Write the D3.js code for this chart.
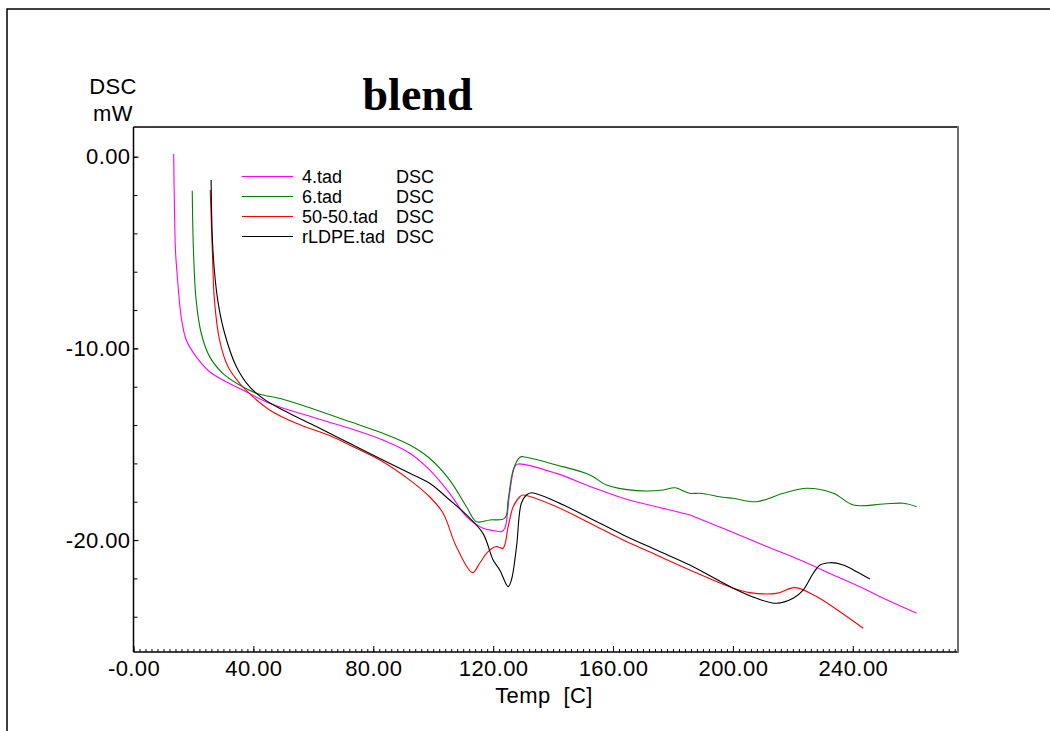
<!DOCTYPE html>
<html>
<head>
<meta charset="utf-8">
<script src="https://cdn.jsdelivr.net/npm/d3@7"></script>
<style>
  html, body { margin: 0; padding: 0; background: #fff; }
  svg { display: block; }
  text { font-family: "Liberation Sans", Arial, sans-serif; fill: #000; }
</style>
</head>
<body>
<svg id="chart" width="1050" height="731"></svg>
<script>
// DSC heat-flow traces (temperature in °C, heat flow in mW)
const series4T = [13.4, 13.7, 14.0, 14.8, 15.9, 17.6, 20.9, 25.4, 30.9, 36.5, 45.4, 61, 72.1, 83.2, 92.2, 98.8, 105.5, 111.1, 116.6, 120, 122.8, 123.9, 125.5, 127.2, 128.3, 141.1, 152.3, 163.4, 174.5, 185.6, 189, 200.1, 211.3, 222.4, 233.5, 244.6, 251.3, 261.3];
const series4V = [0.14, -3.0, -4.87, -6.6, -8.35, -9.56, -10.43, -11.22, -11.74, -12.17, -12.86, -13.65, -14.17, -14.78, -15.47, -16.34, -17.56, -18.78, -19.38, -19.5, -19.56, -19.38, -17.56, -16.17, -16.03, -16.52, -17.2, -17.82, -18.26, -18.69, -18.9, -19.6, -20.34, -21.04, -21.82, -22.6, -23.12, -23.82];

const series6T = [19.6, 20.0, 20.9, 22.6, 25.4, 29.8, 35.4, 41, 49.8, 61, 72.1, 83.2, 92.2, 98.8, 105.5, 111.1, 114.4, 118.9, 123.9, 125, 126.7, 128.9, 130, 141.1, 152.3, 157.8, 167.8, 176.7, 180.6, 185.6, 189, 196.7, 200.1, 207.9, 216.8, 224.6, 233.5, 240.2, 250.2, 256.9, 261.3];
const series6V = [-1.77, -4.87, -7.48, -9.21, -10.43, -11.3, -11.91, -12.34, -12.65, -13.21, -13.82, -14.43, -15.04, -15.73, -16.87, -18.26, -19.04, -18.95, -18.86, -17.91, -16.34, -15.68, -15.65, -16.08, -16.6, -17.13, -17.42, -17.39, -17.27, -17.56, -17.56, -17.77, -17.82, -18.0, -17.56, -17.3, -17.56, -18.17, -18.12, -18.08, -18.26];

const series5050T = [25.6, 26.3, 27.0, 28.7, 31.5, 35.4, 39.8, 45.4, 54.3, 65.4, 72.1, 83.2, 92.2, 98.8, 103.3, 107.7, 113.1, 115.5, 118.3, 121.1, 123.3, 125, 126.7, 128.9, 130, 141.1, 152.3, 163.4, 174.5, 185.6, 200.1, 205.6, 214.5, 220.7, 227.9, 235.7, 243.5];
const series5050V = [-1.74, -4.87, -7.48, -9.56, -10.95, -11.82, -12.52, -13.21, -13.91, -14.55, -15.04, -15.91, -16.87, -17.74, -18.6, -20.34, -21.7, -21.21, -20.6, -20.34, -20.43, -19.3, -18.26, -17.74, -17.65, -18.26, -19.12, -20.0, -20.78, -21.56, -22.51, -22.74, -22.78, -22.48, -22.95, -23.74, -24.6];

const seriesLdpeT = [25.9, 26.5, 28.1, 30.4, 34.3, 38.7, 44.0, 49.8, 61, 72.1, 83.2, 92.2, 98.8, 105.5, 111.1, 116.6, 120, 122.2, 125, 126.1, 127.8, 129.4, 131.1, 132.8, 141.1, 152.3, 163.4, 174.5, 185.6, 200.1, 207.9, 214.5, 220.1, 223.5, 226.8, 229.1, 232.4, 236.8, 241.3, 245.7];
const seriesLdpeV = [-1.22, -4.87, -7.48, -9.21, -10.95, -12.0, -12.7, -13.21, -14.08, -14.95, -15.82, -16.52, -17.04, -17.91, -18.69, -19.65, -21.04, -21.56, -22.43, -22.08, -20.34, -18.08, -17.65, -17.53, -18.0, -18.86, -19.73, -20.52, -21.3, -22.51, -23.04, -23.3, -23.04, -22.6, -21.73, -21.3, -21.18, -21.3, -21.65, -22.03];

const seriesNames = ["4.tad", "6.tad", "50-50.tad", "rLDPE.tad"];
const seriesColors = ["#ff00ff", "#008000", "#ff0000", "#000000"];

const xTickValues = [0, 40, 80, 120, 160, 200, 240];
const xTickLabels = ["-0.00", "40.00", "80.00", "120.00", "160.00", "200.00", "240.00"];
const yTickValues = [0, -10, -20];
const yTickLabels = ["0.00", "-10.00", "-20.00"];

const svg = d3.select("#chart");

// plot area
const plotLeft = 133.5, plotRight = 958, plotTop = 127, plotBottom = 652;
const x = d3.scaleLinear().domain([0, 275.1]).range([plotLeft, plotRight]);
const y = d3.scaleLinear().domain([1.55, -25.84]).range([plotTop, plotBottom]);

// outer page frame
svg.append("path")
  .attr("d", "M7,731 L7,9 L1050,9")
  .attr("fill", "none").attr("stroke", "#000").attr("stroke-width", 1.5);

// minor x ticks every 2 °C
svg.append("g")
  .attr("transform", `translate(0,${plotBottom})`)
  .call(d3.axisBottom(x).tickValues(d3.range(0, 275, 2)).tickSize(-3).tickFormat(""))
  .call(g => g.select(".domain").remove())
  .call(g => g.selectAll("line").attr("stroke", "#000"));

// major x ticks with labels
const xMap = new Map(xTickValues.map((v, i) => [v, xTickLabels[i]]));
svg.append("g")
  .attr("transform", `translate(0,${plotBottom})`)
  .call(d3.axisBottom(x).tickValues(xTickValues).tickSize(-6).tickPadding(8).tickFormat(d => xMap.get(d)))
  .call(g => g.select(".domain").remove())
  .call(g => g.selectAll("line").attr("stroke", "#000"))
  .call(g => g.selectAll("text").attr("font-size", 22).attr("letter-spacing", 0.4)
    .attr("font-family", "Liberation Sans, Arial, sans-serif"));

// minor y ticks every 2 mW
svg.append("g")
  .attr("transform", `translate(${plotLeft},0)`)
  .call(d3.axisLeft(y).tickValues(d3.range(0, -25.9, -2)).tickSize(-4).tickFormat(""))
  .call(g => g.select(".domain").remove())
  .call(g => g.selectAll("line").attr("stroke", "#000"));

// major y ticks with labels
const yMap = new Map(yTickValues.map((v, i) => [v, yTickLabels[i]]));
svg.append("g")
  .attr("transform", `translate(${plotLeft},0)`)
  .call(d3.axisLeft(y).tickValues(yTickValues).tickSize(-5).tickPadding(3).tickFormat(d => yMap.get(d)))
  .call(g => g.select(".domain").remove())
  .call(g => g.selectAll("line").attr("stroke", "#000"))
  .call(g => g.selectAll("text").attr("font-size", 22).attr("letter-spacing", 0.4)
    .attr("font-family", "Liberation Sans, Arial, sans-serif"));

// plot frame
svg.append("line").attr("x1", plotLeft).attr("x2", plotRight).attr("y1", plotTop).attr("y2", plotTop)
  .attr("stroke", "#000").attr("stroke-width", 1.5);
svg.append("line").attr("x1", plotLeft).attr("x2", plotLeft).attr("y1", plotTop).attr("y2", plotBottom)
  .attr("stroke", "#000").attr("stroke-width", 1.5);
svg.append("line").attr("x1", plotLeft).attr("x2", plotRight).attr("y1", plotBottom).attr("y2", plotBottom)
  .attr("stroke", "#000").attr("stroke-width", 1.5);
svg.append("line").attr("x1", plotRight).attr("x2", plotRight).attr("y1", plotTop - 0.75).attr("y2", plotBottom + 0.75)
  .attr("stroke", "#6e6e6e").attr("stroke-width", 2);

// traces
const traces = [
  [series4T, series4V],
  [series6T, series6V],
  [series5050T, series5050V],
  [seriesLdpeT, seriesLdpeV]
];
const line = d3.line().x(d => x(d[0])).y(d => y(d[1])).curve(d3.curveCatmullRom.alpha(0.5));
traces.forEach(([ts, vs], i) => {
  svg.append("path")
    .datum(ts.map((t, k) => [t, vs[k]]))
    .attr("fill", "none")
    .attr("stroke", seriesColors[i])
    .attr("stroke-width", 1.1)
    .attr("d", line);
});

// legend
const legend = svg.append("g");
seriesNames.forEach((name, i) => {
  const ly = 176.5 + i * 20;
  legend.append("line").attr("x1", 242).attr("x2", 293).attr("y1", ly).attr("y2", ly)
    .attr("stroke", seriesColors[i]).attr("stroke-width", 1.1);
  legend.append("text").attr("x", 302).attr("y", ly + 6.5).attr("font-size", 18).text(name);
  legend.append("text").attr("x", 396).attr("y", ly + 6.5).attr("font-size", 18).text("DSC");
});

// title and axis titles
svg.append("text").attr("x", 417.5).attr("y", 110).attr("text-anchor", "middle")
  .style("font-family", "'Liberation Serif', 'Times New Roman', serif")
  .attr("font-weight", "bold").attr("font-size", 46).text("blend");

svg.append("text").attr("x", 113).attr("y", 94).attr("text-anchor", "middle")
  .attr("font-size", 22).attr("letter-spacing", 0.4).text("DSC");
svg.append("text").attr("x", 113).attr("y", 121).attr("text-anchor", "middle")
  .attr("font-size", 22).attr("letter-spacing", 0.4).text("mW");

svg.append("text").attr("x", 544).attr("y", 703).attr("text-anchor", "middle")
  .attr("font-size", 22).attr("letter-spacing", 0.4).style("white-space", "pre").text("Temp  [C]");
</script>
</body>
</html>
